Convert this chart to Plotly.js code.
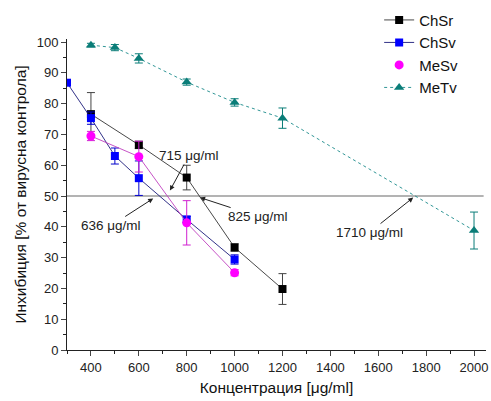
<!DOCTYPE html>
<html><head><meta charset="utf-8">
<script src="https://cdn.plot.ly/plotly-3.0.1.min.js"></script>
<style>body{margin:0;background:#fff}#c{width:491px;height:401px}</style>
</head><body><div id="c"></div>
<script>
const chsrX = [400, 600, 800, 1000, 1200];
const chsrY = [76.6, 66.6, 56.0, 33.3, 19.8];
const chsrE = [7, 1.2, 4, 1.2, 5];
const chsvX = [300, 400, 500, 600, 800, 1000];
const chsvY = [86.8, 75.3, 63.0, 55.8, 42.4, 29.4];
const chsvE = [0.8, 2, 2.6, 5.6, 1, 1.5];
const mesvX = [400, 600, 800, 1000];
const mesvY = [69.5, 62.8, 41.3, 25.1];
const mesvE = [1.5, 5, 7.2, 1];
const metvX = [400, 500, 600, 800, 1000, 1200, 2000];
const metvY = [99.0, 98.2, 94.7, 87.0, 80.4, 75.3, 38.8];
const metvE = [0.6, 1, 1.5, 1, 1.2, 3.3, 6];
const refY = 50;
const labels = ["715 μg/ml", "636 μg/ml", "825 μg/ml", "1710 μg/ml"];
const labelX = [730, 660, 856, 1746];
const labelY = [51.8, 49.2, 49.5, 49.5];

const F = "Liberation Sans, Arial, sans-serif";
const traces = [
  {x: chsrX, y: chsrY, name: "ChSr", mode: "lines+markers",
   line: {color: "#333", width: 0.9},
   marker: {symbol: "square", size: 8, color: "#000"},
   error_y: {type: "data", array: chsrE, color: "#444", thickness: 1, width: 4}},
  {x: chsvX, y: chsvY, name: "ChSv", mode: "lines+markers",
   line: {color: "#1b1b7a", width: 0.9},
   marker: {symbol: "square", size: 8, color: "#0000ff"},
   error_y: {type: "data", array: chsvE, color: "#0000cc", thickness: 1, width: 4}},
  {x: mesvX, y: mesvY, name: "MeSv", mode: "lines", showlegend: false,
   line: {color: "#c040c0", width: 0.9}},
  {x: mesvX, y: mesvY, name: "MeSv", mode: "markers",
   marker: {symbol: "circle", size: 9, color: "#ff00ff"},
   error_y: {type: "data", array: mesvE, color: "#d020d0", thickness: 1, width: 4}},
  {x: metvX, y: metvY, name: "MeTv", mode: "lines+markers",
   line: {color: "#1a8a8a", width: 0.9, dash: "dot"},
   marker: {symbol: "triangle-up", size: 9, color: "#0a7d78"},
   error_y: {type: "data", array: metvE, color: "#0a7d78", thickness: 1, width: 4}}
];

const offs = [[19, -35], [-42, 27], [58, 19], [-44, 35]];
const annotations = labels.map((t, i) => ({
  x: labelX[i], y: labelY[i], xref: "x", yref: "y", text: t,
  showarrow: true, ax: offs[i][0], ay: offs[i][1],
  arrowhead: 2, arrowsize: 1, arrowwidth: 1, arrowcolor: "#222", standoff: 0,
  font: {family: F, size: 13.5, color: "#222"}
}));

const layout = {
  width: 491, height: 401,
  margin: {l: 67, r: 5, t: 38, b: 51},
  paper_bgcolor: "#fff", plot_bgcolor: "#fff",
  font: {family: F, size: 13, color: "#222"},
  showlegend: true,
  legend: {x: 0.745, y: 1.11, xanchor: "left", yanchor: "top",
    font: {family: F, size: 15, color: "#111"}, tracegroupgap: 0,
    bgcolor: "rgba(0,0,0,0)", itemwidth: 30},
  xaxis: {range: [300, 2050], tick0: 0, dtick: 200, ticks: "outside", ticklen: 5,
    showline: true, linecolor: "#222", linewidth: 1, showgrid: false, zeroline: false,
    minor: {dtick: 100, ticks: "outside", ticklen: 3, tickcolor: "#222", showgrid: false},
    tickfont: {size: 13, color: "#222"},
    title: {text: "Концентрация [μg/ml]", font: {size: 15.5, color: "#111"}, standoff: 8}},
  yaxis: {range: [0, 101], tick0: 0, dtick: 10, ticks: "outside", ticklen: 5,
    showline: true, linecolor: "#222", linewidth: 1, showgrid: false, zeroline: false,
    minor: {dtick: 5, ticks: "outside", ticklen: 3, tickcolor: "#222", showgrid: false},
    tickfont: {size: 13, color: "#222"},
    title: {text: "Инхибиция [% от вирусна контрола]", font: {size: 15.5, color: "#111"}, standoff: 6}},
  shapes: [{type: "line", xref: "x", yref: "y", x0: 300, x1: 2040, y0: refY, y1: refY,
    line: {color: "#9a9a9a", width: 1.5}, layer: "below"}],
  annotations: annotations
};
Plotly.newPlot("c", traces, layout, {displayModeBar: false, staticPlot: true});
</script></body></html>
